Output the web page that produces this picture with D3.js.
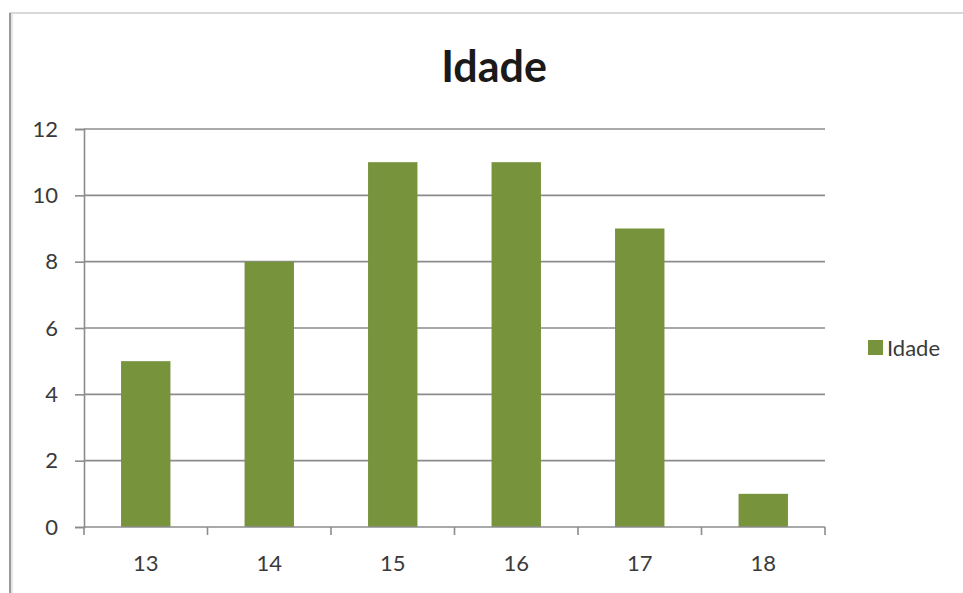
<!doctype html>
<html lang="pt">
<head>
<meta charset="utf-8">
<title>Idade</title>
<style>
  body { margin: 0; background: #fff; }
  svg { display: block; font-family: Lato, "Open Sans", sans-serif; }
  .axis text { fill: #3a3a3a; font-size: 22px; font-family: Lato, "Open Sans", sans-serif; }
  .axis path, .axis line { stroke: #8c8c8c; stroke-width: 1.6px; }
  .grid line { stroke: #8c8c8c; stroke-width: 1.6px; }
</style>
</head>
<body>
<script src="https://cdn.jsdelivr.net/npm/d3@7"></script>
<script>
var titulo = "Idade";
var idades = ["13", "14", "15", "16", "17", "18"];
var valores = [5, 8, 11, 11, 9, 1];
var yTicks = [0, 2, 4, 6, 8, 10, 12];

var W = 963, H = 593;
var margin = { left: 84, right: 138, top: 129, bottom: 66 };
var width = W - margin.left - margin.right;
var height = H - margin.top - margin.bottom;

var svg = d3.select("body").append("svg")
  .attr("width", W).attr("height", H);

// moldura
svg.append("line").attr("x1", 9).attr("x2", 963).attr("y1", 13).attr("y2", 13)
  .attr("stroke", "#d8d8d8").attr("stroke-width", 2);
svg.append("line").attr("x1", 10).attr("x2", 10).attr("y1", 13).attr("y2", 593)
  .attr("stroke", "#9a9a9a").attr("stroke-width", 2);
svg.append("line").attr("x1", 12).attr("x2", 12).attr("y1", 14).attr("y2", 593)
  .attr("stroke", "#e6e6e6").attr("stroke-width", 2);

svg.append("text")
  .attr("x", 494).attr("y", 82)
  .attr("text-anchor", "middle")
  .attr("font-size", "43px").attr("font-weight", "bold")
  .attr("fill", "#1a1a1a")
  .text(titulo);

var g = svg.append("g").attr("transform", "translate(" + margin.left + "," + margin.top + ")");

var x = d3.scaleBand().domain(idades).range([0, width]).paddingInner(0.6).paddingOuter(0.3);
var xCat = d3.scaleBand().domain(idades).range([0, width]);
var y = d3.scaleLinear().domain([0, 12]).range([height, 0]);

// linhas de grade
g.append("g").attr("class", "grid")
  .selectAll("line").data(yTicks.slice(1)).enter().append("line")
  .attr("x1", 0).attr("x2", width)
  .attr("y1", function(d) { return y(d); }).attr("y2", function(d) { return y(d); });

g.selectAll("rect").data(valores).enter().append("rect")
  .attr("x", function(d, i) { return x(idades[i]); })
  .attr("y", function(d) { return y(d); })
  .attr("width", x.bandwidth())
  .attr("height", function(d) { return height - y(d); })
  .attr("fill", "#77933c");

var yAxis = g.append("g").attr("class", "axis")
  .call(d3.axisLeft(y).tickValues(yTicks).tickSize(9).tickPadding(17));

var xAxis = g.append("g").attr("class", "axis")
  .attr("transform", "translate(0," + height + ")")
  .call(d3.axisBottom(xCat).tickSize(0).tickPadding(28));
xAxis.select(".domain").remove();
xAxis.append("line").attr("x1", 0).attr("x2", width).attr("stroke", "#8c8c8c").attr("stroke-width", 1.6);
xAxis.selectAll(".sep").data(d3.range(idades.length + 1)).enter().append("line")
  .attr("class", "sep")
  .attr("x1", function(i) { return i * xCat.step(); })
  .attr("x2", function(i) { return i * xCat.step(); })
  .attr("y1", 0).attr("y2", 8);

// legenda
var leg = svg.append("g").attr("transform", "translate(868,348)");
leg.append("rect").attr("x", 0).attr("y", -8).attr("width", 15).attr("height", 15).attr("fill", "#77933c");
leg.append("text").attr("x", 19).attr("y", 8).attr("font-size", "22px").attr("fill", "#3a3a3a").text("Idade");
</script>
</body>
</html>
